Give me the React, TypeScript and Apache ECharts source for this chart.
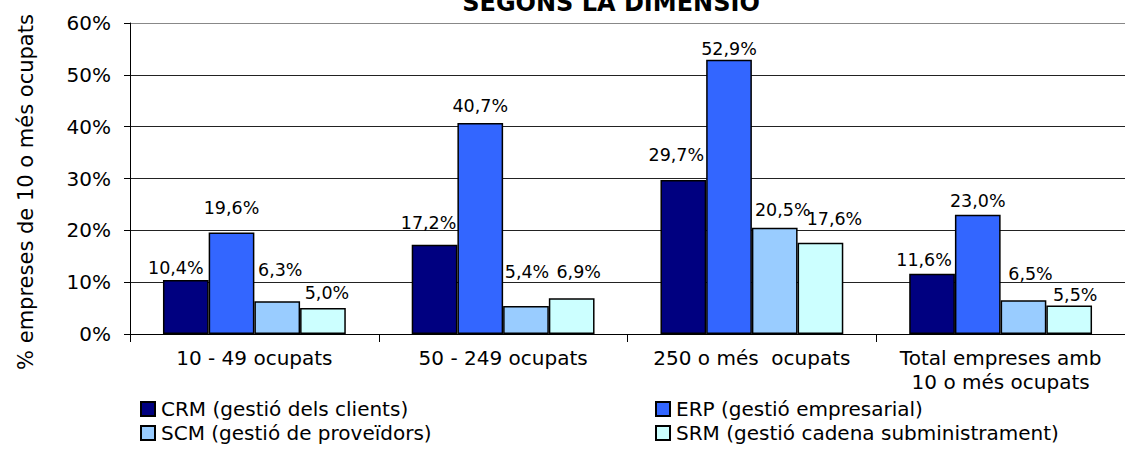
import React, { useEffect, useRef } from "react";
import * as echarts from "echarts";

const categories = ["10 - 49 ocupats", "50 - 249 ocupats", "250 o més  ocupats", "Total empreses amb\n10 o més ocupats"];
const seriesNames = ["CRM (gestió dels clients)", "ERP (gestió empresarial)", "SCM (gestió de proveïdors)", "SRM (gestió cadena subministrament)"];
const crm = [10.4, 17.2, 29.7, 11.6];
const erp = [19.6, 40.7, 52.9, 23.0];
const scm = [6.3, 5.4, 20.5, 6.5];
const srm = [5.0, 6.9, 17.6, 5.5];
const yTicks = [0, 10, 20, 30, 40, 50, 60];
const colors = ["#000080", "#3366FF", "#99CCFF", "#CCFFFF"];
// label nudges [dx, gap above bar]
const labelNudges = [
  [[-10, 7], [-6, 17], [-7, 20], [-8, 9]],
  [[0, 19], [0, 12], [0, 6], [0, 9]],
  [[3, 26], [1, 29], [8, 13], [7, 21]],
  [[4, 10], [7, 21], [14, 19], [6, 5]],
];

const FONT = "DejaVu Sans";

export default function App() {
  const ref = useRef<HTMLDivElement>(null);
  useEffect(() => {
    if (!ref.current) return;
    const chart = echarts.init(ref.current, undefined, { renderer: "svg" });
    const all = [crm, erp, scm, srm];
    const series = all.map((vals, si) => ({
      name: seriesNames[si],
      type: "bar",
      barGap: "0%",
      barCategoryGap: "26.5%",
      itemStyle: { color: colors[si], borderColor: "#000", borderWidth: 1.5 },
      label: {
        show: true,
        position: "top",
        distance: 0,
        fontFamily: FONT,
        fontSize: 17.5,
        color: "#000",
        formatter: (p: any) => p.value.toFixed(1).replace(".", ",") + "%",
      },
      data: vals.map((v, ci) => ({
        value: v,
        label: { offset: [labelNudges[si][ci][0], -(labelNudges[si][ci][1] - 4)] },
      })),
    }));
    const legendCommon = {
      orient: "vertical",
      top: 399,
      itemWidth: 14,
      itemHeight: 14,
      itemGap: 4,
      icon: "rect",
      padding: 0,
      textStyle: { fontFamily: FONT, fontSize: 20, color: "#000", padding: [0, 0, 0, 1] },
    };
    chart.setOption({
      animation: false,
      backgroundColor: "#fff",
      textStyle: { fontFamily: FONT },
      grid: { left: 130, right: -1, top: 23, bottom: 135, containLabel: false },
      xAxis: {
        type: "category",
        data: categories,
        axisLine: { lineStyle: { color: "#000", width: 1 } },
        axisTick: { show: true, length: 8, lineStyle: { color: "#000" } },
        axisLabel: { color: "#000", fontFamily: FONT, fontSize: 20, lineHeight: 24, margin: 12, interval: 0 },
      },
      yAxis: {
        type: "value",
        min: yTicks[0],
        max: yTicks[yTicks.length - 1],
        interval: 10,
        axisLine: { show: true, lineStyle: { color: "#000", width: 1 } },
        axisTick: { show: true, length: 6, lineStyle: { color: "#000" } },
        axisLabel: { color: "#000", fontFamily: FONT, fontSize: 20, margin: 19, formatter: "{value}%" },
        splitLine: { show: true, lineStyle: { color: ["#000", "#222", "#222", "#222", "#222", "#222", "#888"], width: 1 } },
      },
      legend: [
        { ...legendCommon, data: [seriesNames[0], seriesNames[2]], left: 140 },
        { ...legendCommon, data: [seriesNames[1], seriesNames[3]], left: 655 },
      ],
      graphic: [
        {
          type: "text",
          x: 611,
          y: 3,
          style: { text: "SEGONS LA DIMENSIÓ", fontFamily: FONT, fontWeight: "bold", fontSize: 24, fill: "#000", align: "center", verticalAlign: "middle" },
        },
        {
          type: "text",
          x: 26,
          y: 192,
          rotation: Math.PI / 2,
          style: { text: "% empreses de 10 o més ocupats", fontFamily: FONT, fontSize: 21, fill: "#000", align: "center", verticalAlign: "middle" },
        },
      ],
      series,
    });
    return () => chart.dispose();
  }, []);
  return <div ref={ref} style={{ position: "fixed", left: 0, top: 0, width: 1125, height: 469 }} />;
}
